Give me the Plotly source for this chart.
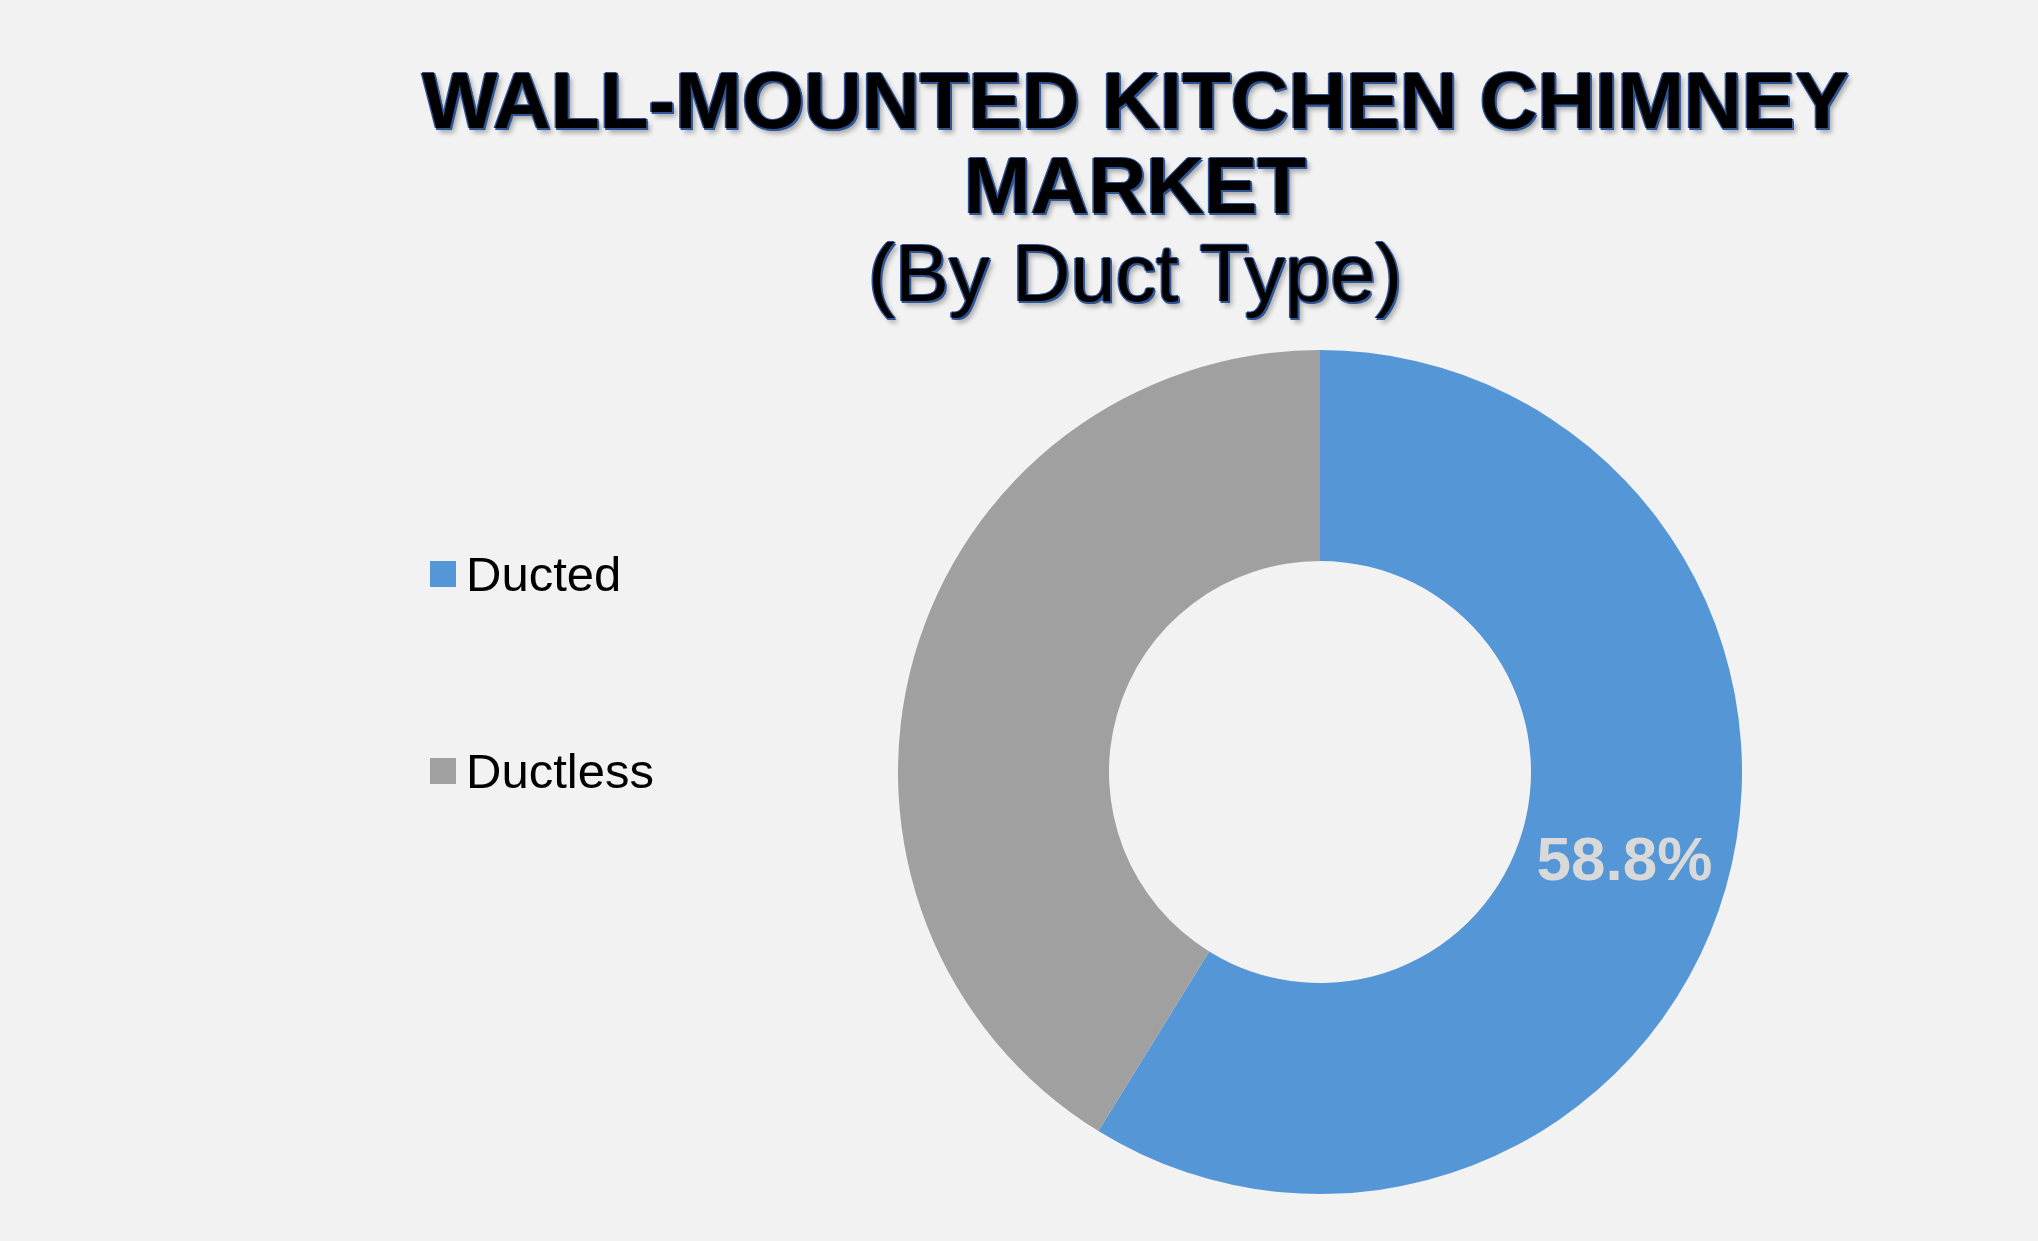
import plotly.graph_objects as go

#%% data
duct_types = ['Ducted', 'Ductless']
shares = [58.8, 41.2]
slice_colors = ['#5596D6', '#A0A0A0']
slice_texts = ['%{value:.1f}%', '']

title_lines = ['WALL-MOUNTED KITCHEN CHIMNEY', 'MARKET', '(By Duct Type)']

#%% page geometry (pixels of the 2038x1241 page)
W, H = 2038, 1241
cx, cy, r = 1320, 772, 422

def px_x(x):
	return x / W

def px_y(y):
	return 1 - y / H

blue = '#2F5597'
outline = ('-1.5px 0 0 {0}, 1.5px 0 0 {0}, 0 -1.5px 0 {0}, 0 1.5px 0 {0}, '
           '2px 2px 0 {0}, 4px 5px 5px rgba(0,0,0,0.3)').format(blue)

fig = go.Figure()

fig.add_trace(go.Pie(
	labels=duct_types,
	values=shares,
	hole=0.5,
	sort=False,
	direction='clockwise',
	rotation=0,
	marker=dict(colors=slice_colors, line=dict(width=0)),
	texttemplate=slice_texts,
	textposition='inside',
	insidetextorientation='horizontal',
	textfont=dict(family='Liberation Sans, Arial', size=62, color='#D9D9D9', weight='bold'),
	showlegend=False,
	domain=dict(x=[px_x(cx - r), px_x(cx + r)], y=[px_y(cy + r), px_y(cy - r)]),
))

# title, three lines
title_y = [101, 186, 273]
for i, line in enumerate(title_lines):
	fig.add_annotation(
		text=line, x=px_x(1135), y=px_y(title_y[i]), xref='paper', yref='paper',
		xanchor='center', yanchor='middle', showarrow=False,
		font=dict(family='Liberation Sans, Arial', size=80 if i < 2 else 81, color='#000000',
		          weight='bold' if i < 2 else 'normal', shadow=outline),
	)

# legend drawn by hand so the wide gap between entries can be kept
legend_y = [574, 771]
for i, name in enumerate(duct_types):
	fig.add_shape(
		type='rect', xref='paper', yref='paper',
		x0=px_x(430), x1=px_x(456), y0=px_y(legend_y[i] + 13), y1=px_y(legend_y[i] - 13),
		fillcolor=slice_colors[i], line=dict(width=0),
	)
	fig.add_annotation(
		text=name, x=px_x(464), y=px_y(legend_y[i]), xref='paper', yref='paper',
		xanchor='left', yanchor='middle', showarrow=False,
		font=dict(family='Liberation Sans, Arial', size=49, color='#000000'),
	)

fig.update_layout(
	width=W, height=H,
	margin=dict(l=0, r=0, t=0, b=0),
	paper_bgcolor='#F2F2F2',
	plot_bgcolor='#F2F2F2',
)

fig.write_html("out.html", config={'displayModeBar': False},
               post_script="document.body.style.margin='0';")
